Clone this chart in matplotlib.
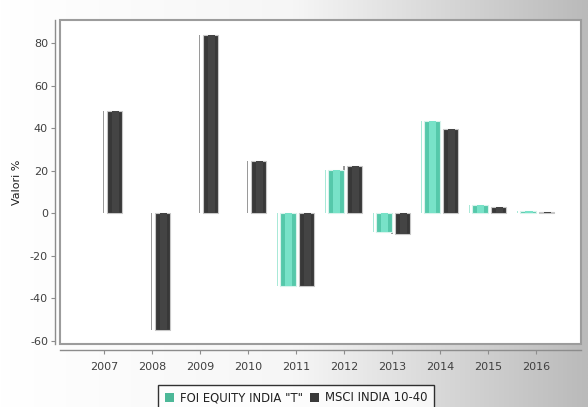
import numpy as np
import matplotlib
matplotlib.use("Agg")
import matplotlib.pyplot as plt
from matplotlib.patches import Rectangle, Patch
from matplotlib.colors import LinearSegmentedColormap

years = ["2007", "2008", "2009", "2010", "2011", "2012", "2013", "2014", "2015", "2016"]
foi = [np.nan, np.nan, np.nan, np.nan, -34.0, 20.6, -9.0, 43.6, 3.7, 1.2]
msci = [48.2, -54.8, 83.8, 24.8, -34.0, 22.3, -9.5, 39.7, 3.0, 0.5]
series_names = ['FOI EQUITY INDIA "T"', 'MSCI INDIA 10-40']
ylabel = "Valori %"
yticks = [-60, -40, -20, 0, 20, 40, 60, 80]

plt.rcParams['font.family'] = ['DejaVu Sans']

W, H, DPI = 588, 407, 100
fig = plt.figure(figsize=(W / DPI, H / DPI), dpi=DPI)

# background gradient
bg = fig.add_axes([0, 0, 1, 1], zorder=-10)
grad = np.linspace(0, 1, 256)
grad = np.vstack([grad, grad])
cmap = LinearSegmentedColormap.from_list("bg", ["#ffffff", "#f6f6f6", "#bababa"])
bg.imshow(grad, aspect="auto", cmap=cmap, extent=[0, 1, 0, 1])
bg.set_axis_off()

ax = fig.add_axes([60 / W, 1 - 344 / H, (581 - 60) / W, (344 - 20) / H])
ax.set_facecolor("white")

x = np.arange(len(years))
bw = 0.32
foi_off = -0.17
msci_off = 0.21
stripe_gap = 0.075
stripe_w = 0.03

foi_arr = np.array(foi, dtype=float)
msci_arr = np.array(msci, dtype=float)

# MSCI bars
mx = x + msci_off
ax.bar(mx - bw / 2 - stripe_gap + stripe_w / 2, msci_arr, width=stripe_w,
       color="#9a9a9a", edgecolor="none", zorder=2)
ax.bar(mx, msci_arr, width=bw, color="#383838", edgecolor="#c8c8c8",
       linewidth=0.8, zorder=3)
ax.bar(mx + 0.02, msci_arr, width=bw * 0.45, color="#444444",
       edgecolor="none", zorder=4)

# FOI bars
mask = ~np.isnan(foi_arr)
fx = x[mask] + foi_off
fv = foi_arr[mask]
ax.bar(fx - bw / 2 - stripe_gap + stripe_w / 2, fv, width=stripe_w,
       color="#a9e9d8", edgecolor="none", zorder=2)
ax.bar(fx, fv, width=bw, color="#55c8aa", edgecolor="#d8f3ec",
       linewidth=0.8, zorder=3)
ax.bar(fx + 0.01, fv, width=bw * 0.5, color="#78e2c8",
       edgecolor="none", zorder=4)

ax.set_xlim(-0.92, len(years) - 1 + 0.93)
ax.set_ylim(-61.5, 91)
ax.set_xticks(x)
ax.set_xticklabels(years)
ax.set_yticks(yticks)
ax.set_yticklabels([str(v) for v in yticks])

for s in ["top", "right"]:
    ax.spines[s].set_visible(False)
ax.spines["left"].set_position(("outward", 3.6))
ax.spines["bottom"].set_position(("outward", 4.3))
for s in ["left", "bottom"]:
    ax.spines[s].set_color("#8c8c8c")
    ax.spines[s].set_linewidth(1.0)

# plot box
ax.add_patch(Rectangle((0, 0), 1, 1, transform=ax.transAxes, fill=False,
                       edgecolor="#9c9c9c", linewidth=1.5, clip_on=False, zorder=5))

ax.tick_params(axis="both", colors="#8c8c8c", labelcolor="#404040",
               labelsize=8, length=3, width=0.8)
ax.tick_params(axis="x", pad=6)
ax.tick_params(axis="y", pad=2)
ax.set_ylabel(ylabel, fontsize=8, color="#202020", labelpad=6)

handles = [Patch(facecolor="#4db898", edgecolor="none"),
           Patch(facecolor="#3a3a3a", edgecolor="none")]
leg = fig.legend(handles, series_names, loc="upper center",
                 bbox_to_anchor=(296 / W, 1 - 385 / H), ncol=2, fontsize=8.4,
                 frameon=True, fancybox=False, handlelength=0.8,
                 handleheight=0.8, handletextpad=0.5, columnspacing=0.6,
                 borderpad=0.55, borderaxespad=0)
leg.get_frame().set_edgecolor("black")
leg.get_frame().set_linewidth(1.0)
leg.get_frame().set_facecolor("white")
for t in leg.get_texts():
    t.set_color("#202020")

fig.savefig("out.png", dpi=DPI)
